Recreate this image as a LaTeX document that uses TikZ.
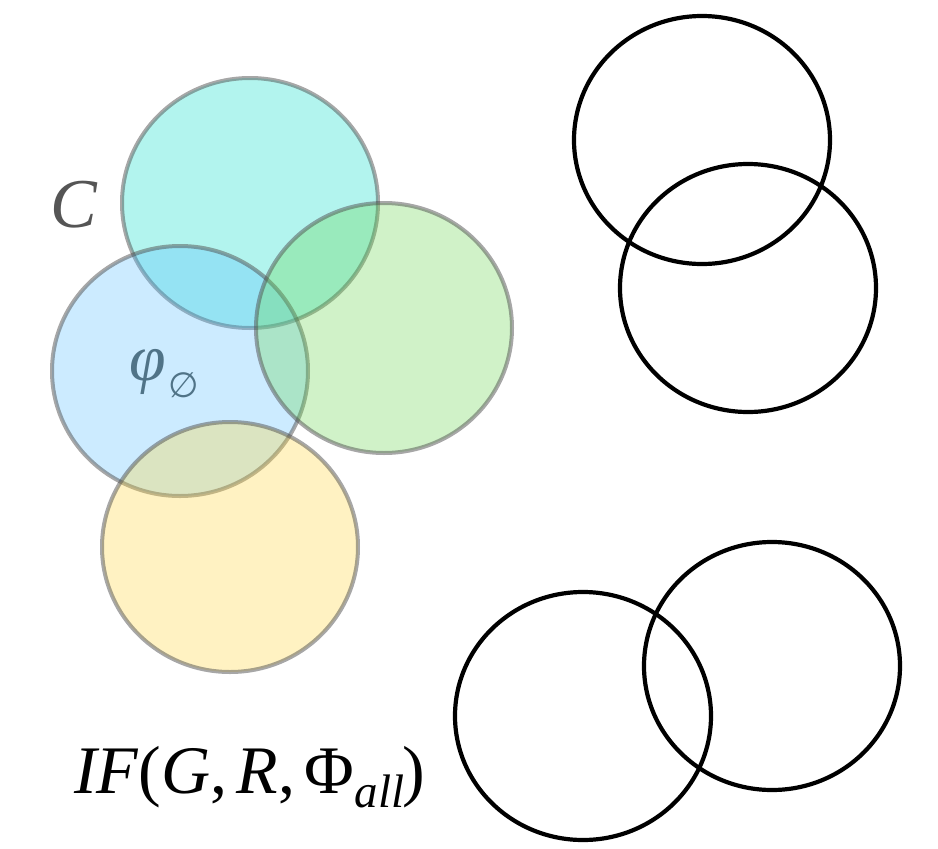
\documentclass[tikz,border=0pt]{standalone}
\usepackage{fontspec}
\setmainfont{Liberation Serif}
\newfontfamily\symfont{DejaVu Sans}
\begin{document}
\begin{tikzpicture}[x=1pt,y=-1pt,
  soft/.style={draw={rgb,255:red,80;green,80;blue,80}, draw opacity=0.5, line width=4pt, fill opacity=0.3},
  ring/.style={draw=black, line width=4.2pt},
  lbl/.style={inner sep=0pt, anchor=base west}]
\definecolor{cyanfill}{RGB}{0,220,200}
\definecolor{bluefill}{RGB}{85,188,255}
\definecolor{greenfill}{RGB}{98,212,72}
\definecolor{yellowfill}{RGB}{255,212,52}
\definecolor{cgray}{RGB}{85,85,85}
\definecolor{phicol}{RGB}{80,115,135}
\useasboundingbox (0,0) rectangle (938,849);

% coloured, translucent sets
\draw[soft, fill=cyanfill]   (250,203) ellipse [x radius=128, y radius=125];
\draw[soft, fill=bluefill]   (180,371) ellipse [x radius=128, y radius=125];
\draw[soft, fill=greenfill]  (384,328) ellipse [x radius=128, y radius=125];
\draw[soft, fill=yellowfill] (230,547) ellipse [x radius=128, y radius=125];

% outlined pairs
\draw[ring] (702,140) ellipse [x radius=128, y radius=124];
\draw[ring] (748,288) ellipse [x radius=128, y radius=124];
\draw[ring] (583,716) ellipse [x radius=128, y radius=124];
\draw[ring] (772,666) ellipse [x radius=128, y radius=124];

% labels
\node[lbl, text=cgray, font=\fontsize{70}{70}\selectfont\itshape] (c) at (50,227) {C};
\node[lbl, text=phicol] (phi) at (129,380) {\fontsize{66}{66}\selectfont\itshape φ\hspace{3pt}\raisebox{-17pt}{\fontsize{35}{35}\selectfont\symfont ∅}};
\node[lbl, font=\fontsize{68}{68}\selectfont] (if) at (74,793)
  {\textit{IF}(\textit{G},\hspace{9pt}\textit{R},\hspace{9pt}Φ\hspace{1pt}\raisebox{-14pt}{\fontsize{47}{47}\selectfont\itshape all}\hspace{-2pt})};
\end{tikzpicture}
\end{document}
